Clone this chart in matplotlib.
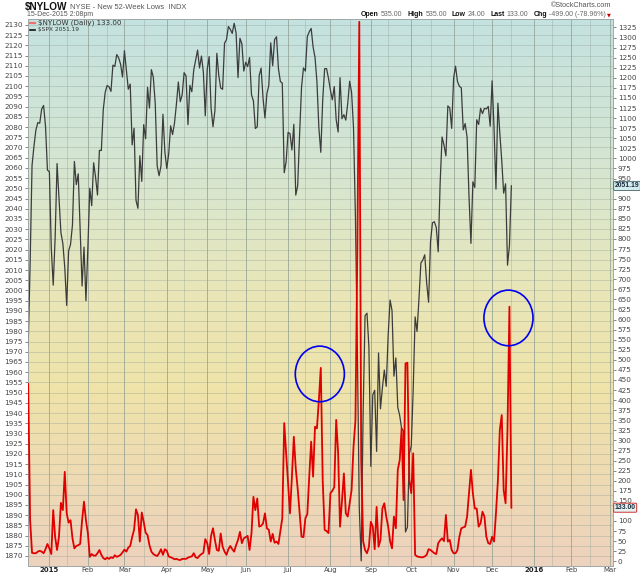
import numpy as np
import pandas as pd
import matplotlib
matplotlib.use("Agg")
import matplotlib.pyplot as plt
from matplotlib.patches import Ellipse
from matplotlib.lines import Line2D
from matplotlib.colors import LinearSegmentedColormap
from matplotlib.transforms import blended_transform_factory

# ---------------- data ----------------
holidays = ["2014-12-25", "2015-01-01", "2015-01-19", "2015-02-16", "2015-04-03",
            "2015-05-25", "2015-07-03", "2015-09-07", "2015-11-26", "2015-12-25",
            "2016-01-01", "2016-01-18", "2016-02-15"]
first_day = "2014-12-16"
last_day = "2015-12-15"
axis_end = "2016-03-02"

spx = [
    1972.74, 2012.89, 2061.23, 2070.65, 2078.54, 2082.17, 2081.88, 2088.77, 2090.57, 2080.35, 2058.90,
    2058.20, 2020.58, 2002.61, 2025.90, 2062.14, 2044.81, 2028.26, 2023.03, 2011.27, 1992.67,
    2019.42, 2022.55, 2032.12, 2063.15, 2051.82, 2057.09, 2029.55, 2002.16, 2021.25, 1994.99,
    2020.85, 2050.03, 2041.51, 2062.52, 2055.47, 2046.74, 2068.59, 2068.53, 2088.48, 2096.99,
    2100.34, 2099.68, 2097.45, 2110.30, 2109.66, 2115.48, 2113.86, 2110.74, 2104.50,
    2117.39, 2107.78, 2098.53, 2101.04, 2071.26, 2079.43, 2044.16, 2040.24, 2065.95, 2053.40,
    2081.19, 2074.28, 2099.50, 2089.27, 2108.10, 2104.42, 2091.50, 2061.05, 2056.15, 2061.02,
    2086.24, 2067.89,
    2059.69, 2066.96, 2080.62, 2076.33, 2081.90, 2091.18, 2102.06, 2092.43, 2095.84, 2106.63,
    2104.99, 2081.18, 2100.40, 2097.29, 2107.96, 2112.93, 2117.69, 2108.92, 2114.76, 2106.85, 2085.51,
    2108.29, 2114.49, 2089.46, 2080.15, 2088.00, 2116.10, 2105.33, 2099.12, 2098.48, 2121.10,
    2122.73, 2129.20, 2127.83, 2125.85, 2130.82, 2126.06, 2104.20, 2123.48, 2120.79, 2107.39,
    2111.73, 2109.60, 2114.07, 2095.84, 2092.83, 2079.28, 2080.15, 2105.20, 2108.86, 2094.11,
    2084.43, 2096.29, 2100.44, 2121.24, 2109.99, 2122.85, 2124.20, 2108.58, 2102.31, 2101.49,
    2057.64, 2063.11,
    2077.42, 2076.78, 2068.76, 2081.34, 2046.68, 2051.31, 2076.62, 2099.60, 2108.95, 2107.40,
    2124.29, 2126.64, 2128.28, 2119.21, 2114.15, 2102.15, 2079.65, 2067.64, 2093.25, 2108.57,
    2108.63, 2103.84,
    2098.04, 2093.32, 2099.84, 2083.56, 2077.57, 2104.18, 2084.07, 2086.05, 2083.39, 2091.54,
    2102.44, 2096.92, 2079.61, 2035.73, 1970.89, 1893.21, 1867.61, 1940.51, 1987.66, 1988.87, 1972.18,
    1913.85, 1948.86, 1951.13, 1921.22, 1969.41, 1942.04, 1952.29, 1961.05, 1953.03, 1978.09,
    1995.31, 1990.20, 1958.03, 1966.97, 1942.74, 1938.76, 1932.24, 1931.34, 1881.77, 1884.09, 1920.03,
    1923.82, 1951.36, 1987.05, 1979.92, 1995.83, 2013.43, 2014.89, 2017.46, 2003.69, 1994.24,
    2023.86, 2033.11, 2033.66, 2030.77, 2018.94, 2052.51, 2075.15, 2071.18, 2065.89, 2090.35,
    2089.41, 2079.36,
    2104.05, 2109.79, 2102.31, 2099.93, 2099.20, 2078.58, 2081.72, 2075.00, 2045.97, 2023.04,
    2053.19, 2050.44, 2083.58, 2081.24, 2089.17, 2086.59, 2089.14, 2088.87, 2090.11, 2080.41,
    2102.63, 2079.51, 2049.62, 2091.69, 2077.07, 2063.59, 2047.62, 2052.23, 2012.37, 2021.94, 2051.19,
]

nylow = [
    440, 102, 21, 20, 20, 24, 26, 24, 20, 30, 43,
    32, 18, 127, 60, 28, 61, 145, 127, 222, 119, 96, 102, 57, 32, 38, 40, 43, 102, 148, 102,
    70, 11, 18, 14, 14, 20, 28, 16, 8, 5, 9, 6, 10, 8, 15, 11, 13, 16, 22,
    29, 24, 34, 38, 60, 78, 129, 115, 49, 121, 98, 71, 65, 40, 24, 18, 15, 13, 20, 30, 16, 30,
    26, 12, 10, 8, 5, 6, 4, 3, 6, 6, 6, 9, 11, 12, 20, 10, 8, 14, 18, 21, 55,
    45, 18, 63, 82, 53, 28, 26, 69, 36, 24, 16, 30, 38, 30, 24, 40, 53, 73, 45, 57,
    60, 63, 28, 70, 160, 127, 156, 86, 88, 94, 119, 82, 78, 49, 68, 46, 49, 43, 75, 107, 343, 268,
    190, 119, 210, 309, 230, 180, 119, 61, 60, 107, 117, 210, 297, 210, 334, 330, 400, 480, 200, 78, 75, 70,
    169, 175, 184, 351, 270, 86, 150, 218, 119, 111, 144, 177, 284, 350, 780, 1339, 251, 50, 28, 20, 36,
    98, 86, 30, 135, 36, 53, 131, 144, 111, 86, 50, 32, 111, 82, 227, 251, 330, 152, 491, 493, 202,
    169, 268, 16, 12, 11, 10, 10, 12, 16, 30, 28, 24, 20, 18, 45, 52, 57, 50, 115, 49, 53, 28,
    20, 20, 28, 61, 82, 84, 86, 111, 169, 227, 169, 131, 131, 86, 94, 123, 111, 61, 45, 43,
    61, 49, 119, 200, 326, 363, 177, 144, 330, 632, 133,
]

left_ticks = np.arange(1870, 2131, 5)
right_ticks = np.arange(0, 1326, 25)

circle_dates = ["2015-07-24", "2015-12-11"]
circle_vals = [465, 604]

header_stats = [("Open", "535.00"), ("High", "535.00"), ("Low", "24.00"),
                ("Last", "133.00"), ("Chg", "-499.00 (-78.96%)")]

# ---------------- calendar ----------------
cal = pd.offsets.CustomBusinessDay(holidays=holidays)
axis_days = pd.date_range(first_day, axis_end, freq=cal)
data_days = axis_days[axis_days <= pd.Timestamp(last_day)]
assert len(data_days) == len(spx) == len(nylow), (len(data_days), len(spx), len(nylow))
xd = np.arange(len(data_days))

month_pos, month_lab, mid_pos = [], [], []
ser = pd.Series(np.arange(len(axis_days)), index=axis_days)
for (yy, mm), grp in ser.groupby([axis_days.year, axis_days.month]):
    first = grp.index[0]
    if first.day <= 5:
        month_pos.append(grp.iloc[0])
        month_lab.append(str(yy) if mm == 1 else first.strftime("%b"))
    mids = grp[grp.index.day >= 15]
    if len(mids) and mids.iloc[0] > 0:
        mid_pos.append(mids.iloc[0])

# ---------------- figure ----------------
W, H = 640, 576
fig = plt.figure(figsize=(W / 100, H / 100), dpi=100)
fig.patch.set_facecolor("white")
L, R, T, B = 28, 613, 19, 566
ax = fig.add_axes([L / W, 1 - B / H, (R - L) / W, (B - T) / H])
ax2 = ax.twinx()

# gradient background
cmap = LinearSegmentedColormap.from_list(
    "bg", [(0.0, "#c4e2e0"), (0.3, "#d8e6cf"), (0.5, "#e9e6b8"),
           (0.68, "#efe3a9"), (1.0, "#edd2be")])
grad = np.linspace(0, 1, 256).reshape(-1, 1)
ax.imshow(grad, cmap=cmap, extent=[0, 1, 0, 1], transform=ax.transAxes,
          aspect="auto", zorder=0, origin="upper")

gcol = "#8f9f92"
for p in month_pos:
    ax.axvline(p, color=gcol, lw=0.7, alpha=0.75, zorder=1)
for p in mid_pos:
    ax.axvline(p, color=gcol, lw=0.55, alpha=0.45, zorder=1)
for v in left_ticks:
    ax.axhline(v, color=gcol, lw=0.55, alpha=0.45, zorder=1)

ax.plot(xd, spx, color="#3c3c3c", lw=0.9, zorder=3)
ax2.plot(xd, nylow, color="#e00000", lw=1.3, zorder=3)

xmax = len(axis_days) - 1 + 0.8
ax.set_xlim(-0.1, xmax)
ax.set_ylim(1865.1, 2132.9)
ax2.set_ylim(-11.7, 1346)

# circles (annotation)
for d, v in zip(circle_dates, circle_vals):
    xi = axis_days.get_loc(pd.Timestamp(d))
    ax2.add_patch(Ellipse((xi + 0.5, v), width=25.5, height=138, fill=False,
                          ec="#0000ee", lw=1.2, zorder=4))

# positions of the last-value boxes (pixels)
box_spx_y = ax.transData.transform((0, spx[-1]))[1]
box_low_y = ax2.transData.transform((0, nylow[-1]))[1]

# ticks
ax.set_yticks(left_ticks)
ax.set_yticklabels([str(v) for v in left_ticks])
ax2.set_yticks(right_ticks)
rlabels = []
for v in right_ticks:
    py = ax2.transData.transform((0, v))[1]
    hidden = min(abs(py - box_spx_y), abs(py - box_low_y)) < 4.5
    rlabels.append("" if hidden else str(v))
ax2.set_yticklabels(rlabels)
ax.tick_params(axis="y", labelsize=5.2, length=2.5, width=0.5, colors="#555555",
               labelcolor="#444444", pad=1)
ax2.tick_params(axis="y", labelsize=5.2, length=2.5, width=0.5, colors="#555555",
                labelcolor="#444444", pad=1)
ax.set_xticks(month_pos)
ax.set_xticklabels(month_lab)
ax.tick_params(axis="x", length=0, labelsize=5.0, labelcolor="#444444", pad=0.6)
for lab in ax.get_xticklabels():
    if lab.get_text().isdigit():
        lab.set_fontweight("bold")
        lab.set_color("#222222")
for a in (ax, ax2):
    for s in a.spines.values():
        s.set_color("#a0a8a8")
        s.set_linewidth(0.6)

# value boxes on right edge
tr1 = blended_transform_factory(ax2.transAxes, ax.transData)
ax2.annotate(f"{spx[-1]:.2f}", xy=(1.0, spx[-1]), xycoords=tr1, xytext=(1.2, 0),
             textcoords="offset points", ha="left", va="center", fontsize=4.9,
             fontweight="bold", color="#1a2a3a", zorder=10, annotation_clip=False,
             family="Liberation Sans",
             bbox=dict(boxstyle="round,pad=0.15", fc="#d3ecf0", ec="#44606a", lw=0.6))
ax2.annotate(f"{nylow[-1]:.2f}", xy=(1.0, nylow[-1]), xycoords=("axes fraction", "data"),
             xytext=(1.2, 0), textcoords="offset points", ha="left", va="center",
             fontsize=4.9, fontweight="bold", color="#1a2a3a", zorder=10,
             annotation_clip=False, family="Liberation Sans",
             bbox=dict(boxstyle="round,pad=0.15", fc="#e4f2f2", ec="#d03030", lw=0.7))

# legend inside
fig.add_artist(Line2D([30 / W, 35 / W], [1 - 23 / H] * 2, color="#f07070", lw=1.6))
fig.add_artist(Line2D([30 / W, 35 / W], [1 - 29.5 / H] * 2, color="#111111", lw=1.2))
fig.text(38 / W, 1 - 23 / H, f"$NYLOW (Daily) {nylow[-1]:.2f}", fontsize=5.1,
         color="#333333", va="center", ha="left")
fig.text(38 / W, 1 - 29.5 / H, f"$SPX {spx[-1]:.2f}", fontsize=4.2,
         color="#333333", va="center", ha="left")

# header
fig.canvas.draw()
rend = fig.canvas.get_renderer()
t1 = fig.text(25 / W, 1 - 7 / H, "$NYLOW", fontsize=7.2, fontweight="bold",
              color="#111111", va="center", ha="left", family="Liberation Sans")
bb = t1.get_window_extent(rend)
fig.text((bb.x1 + 2) / W, 1 - 7.5 / H, "NYSE - New 52-Week Lows  INDX", fontsize=5.4,
         color="#555555", va="center", ha="left", family="Liberation Sans")
fig.text(27 / W, 1 - 15 / H, "15-Dec-2015 2:08pm", fontsize=5.0, color="#555555",
         va="center", ha="left", family="Liberation Sans")
fig.text(611 / W, 1 - 5.5 / H, "\u00a9StockCharts.com", fontsize=5.2, color="#555555",
         va="center", ha="right", family="Liberation Sans")

xcur = 606.0
fig.text(611 / W, 1 - 15 / H, "\u25bc", fontsize=3.6, color="#cc0000",
         va="center", ha="right")
pieces = []
for name, val in header_stats:
    pieces.append((name, "bold", "#111111"))
    pieces.append((val, "normal", "#666666"))
for s, w, c in reversed(pieces):
    t = fig.text(xcur / W, 1 - 15 / H, s, fontsize=5.0, fontweight=w, color=c,
                 va="center", ha="right", family="Liberation Sans")
    bw = t.get_window_extent(rend).width
    gap = 2.2 if w == "normal" else 4.8
    xcur -= bw + gap

fig.savefig("out.png", dpi=100)
